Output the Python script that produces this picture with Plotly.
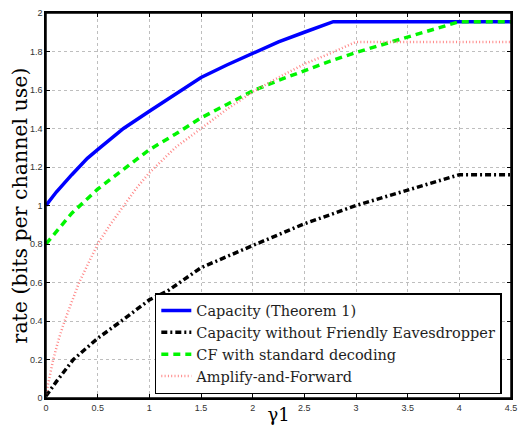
import plotly.graph_objects as go

# gamma_1 sample points and rates
cap_x = [0, 0.1, 0.25, 0.4, 0.5, 0.75, 1.0, 1.25, 1.5, 1.75, 2.0, 2.25, 2.5, 2.65, 2.78, 4.5]
cap_y = [1.00, 1.07, 1.16, 1.245, 1.29, 1.40, 1.49, 1.58, 1.665, 1.73, 1.79, 1.85, 1.90, 1.93, 1.955, 1.955]

nofe_x = [0, 0.1, 0.265, 0.5, 0.73, 1.0, 1.18, 1.5, 2.0, 2.5, 2.86, 3.0, 3.5, 4.0, 4.5]
nofe_y = [0.01, 0.085, 0.2, 0.31, 0.4, 0.51, 0.557, 0.677, 0.792, 0.905, 0.973, 1.0, 1.08, 1.16, 1.16]

cf_x = [0, 0.25, 0.5, 0.75, 1.0, 1.25, 1.5, 1.75, 2.0, 2.25, 2.5, 2.75, 3.0, 3.25, 3.5, 3.75, 4.0, 4.5]
cf_y = [0.80, 0.96, 1.085, 1.19, 1.29, 1.37, 1.455, 1.525, 1.595, 1.65, 1.70, 1.75, 1.795, 1.835, 1.875, 1.915, 1.955, 1.955]

af_x = [0, 0.03, 0.07, 0.12, 0.18, 0.25, 0.32, 0.41, 0.5, 0.62, 0.75, 0.875, 1.0, 1.25, 1.5, 1.75, 2.0, 2.25, 2.5, 2.75, 3.0, 4.5]
af_y = [0.02, 0.1, 0.2, 0.3, 0.4, 0.5, 0.6, 0.7, 0.8, 0.9, 1.0, 1.09, 1.17, 1.30, 1.40, 1.50, 1.59, 1.665, 1.735, 1.79, 1.85, 1.85]

x_ticks = [0, 0.5, 1, 1.5, 2, 2.5, 3, 3.5, 4, 4.5]
y_ticks = [0, 0.2, 0.4, 0.6, 0.8, 1, 1.2, 1.4, 1.6, 1.8, 2]

names = ["Capacity (Theorem 1)", "Capacity without Friendly Eavesdropper",
         "CF with standard decoding", "Amplify-and-Forward"]

SERIF = "DejaVu Serif"

fig = go.Figure()
fig.add_trace(go.Scatter(x=cap_x, y=cap_y, mode="lines", name=names[0],
                         line=dict(color="rgb(0,0,255)", width=3.5)))
fig.add_trace(go.Scatter(x=nofe_x, y=nofe_y, mode="lines", name=names[1],
                         line=dict(color="black", width=3.5, dash="6px,3px,2px,3px")))
fig.add_trace(go.Scatter(x=cf_x, y=cf_y, mode="lines", name=names[2],
                         line=dict(color="rgb(0,245,0)", width=3.5, dash="7px,5px")))
fig.add_trace(go.Scatter(x=af_x, y=af_y, mode="lines", name=names[3],
                         line=dict(color="rgb(255,135,135)", width=2.5, dash="1px,2.3px")))

axis_common = dict(
    showline=True, linecolor="black", linewidth=1.5, mirror="ticks",
    ticks="inside", ticklen=4, tickcolor="black",
    showgrid=True, gridcolor="rgb(190,190,190)", griddash="dot", gridwidth=1,
    zeroline=False, automargin=False, ticklabeloverflow="allow",
    tickfont=dict(family="Liberation Sans", size=9, color="rgb(50,50,50)"),
)

# page body has an 8px default margin; figure sized/offset to compensate
fig.update_layout(
    width=518, height=417,
    margin=dict(l=38, r=15, t=5, b=27),
    plot_bgcolor="white", paper_bgcolor="white",
    xaxis=dict(range=[0, 4.5], tickvals=x_ticks, **axis_common,
               title=dict(text="γ1", font=dict(family=SERIF, size=18, color="black"),
                          standoff=0)),
    yaxis=dict(range=[0, 2], tickvals=y_ticks, **axis_common,
               title=dict(text="rate (bits per channel use)",
                          font=dict(family=SERIF, size=20.5, color="black"),
                          standoff=1)),
    legend=dict(x=0.234, y=0.0103, xanchor="left", yanchor="bottom",
                bgcolor="white", bordercolor="black", borderwidth=1.5,
                font=dict(family=SERIF, size=14.5, color="rgb(30,30,30)"),
                tracegroupgap=0, itemwidth=30),
    shapes=[dict(type="rect", xref="paper", yref="paper", x0=0, y0=0, x1=1, y1=1,
                 line=dict(color="black", width=1.5), layer="above")],
    showlegend=True,
)

fig.write_html("out.html")
